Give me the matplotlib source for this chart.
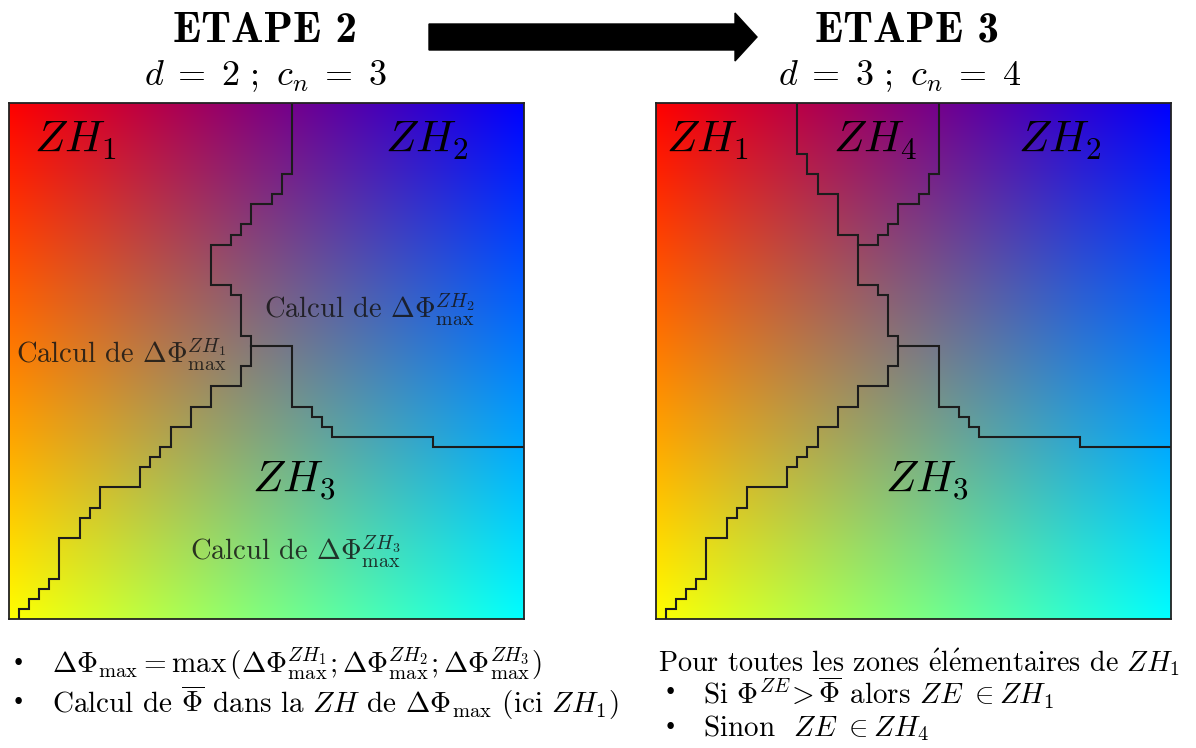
import numpy as np
import matplotlib
matplotlib.use("Agg")
import matplotlib.pyplot as plt
from matplotlib.patches import FancyArrow

plt.rcParams['font.family'] = ['cmr10', 'DejaVu Serif']
plt.rcParams['mathtext.fontset'] = 'cm'
plt.rcParams['axes.unicode_minus'] = False

W, H = 1196, 748
N = 51  # grille de zones élémentaires (51 x 51)

# couleurs des coins : haut-gauche, haut-droite, bas-gauche, bas-droite
corner_colors = [(1, 0, 0), (0, 0, 1), (1, 1, 0), (0, 1, 1)]

# frontières (x, y) en cellules, y compté depuis le haut
border_12 = [(28, 0), (28, 7), (27, 7), (27, 9), (26, 9), (26, 10), (24, 10), (24, 12),
             (23, 12), (23, 13), (22, 13), (22, 14), (20, 14), (20, 18), (22, 18),
             (22, 19), (23, 19), (23, 23), (24, 23), (24, 24)]
border_23 = [(24, 24), (28, 24), (28, 30), (30, 30), (30, 31), (31, 31), (31, 32),
             (32, 32), (32, 33), (42, 33), (42, 34), (51, 34)]
border_13 = [(24, 24), (24, 26), (23, 26), (23, 28), (20, 28), (20, 30), (18, 30),
             (18, 32), (16, 32), (16, 34), (15, 34), (15, 35), (14, 35), (14, 36),
             (13, 36), (13, 38), (9, 38), (9, 40), (8, 40), (8, 41), (7, 41), (7, 43),
             (5, 43), (5, 47), (4, 47), (4, 48), (3, 48), (3, 49), (2, 49), (2, 50),
             (1, 50), (1, 51)]
# nouvelle frontière ZH4 / ZH1 à l'étape 3
border_14 = [(14, 0), (14, 5), (15, 5), (15, 7), (16, 7), (16, 9), (18, 9), (18, 13),
             (20, 13), (20, 14)]

# étiquettes (texte, x, y) en cellules
labels_step2 = [(r"$ZH_1$", 6.6, 3.7), (r"$ZH_2$", 41.4, 3.7), (r"$ZH_3$", 28.2, 37.3)]
calc_step2 = [(r"Calcul de $\Delta\Phi^{ZH_1}_{\mathrm{max}}$", 11.1, 24.9),
              (r"Calcul de $\Delta\Phi^{ZH_2}_{\mathrm{max}}$", 35.7, 20.5),
              (r"Calcul de $\Delta\Phi^{ZH_3}_{\mathrm{max}}$", 28.4, 44.4)]
labels_step3 = [(r"$ZH_1$", 5.1, 3.7), (r"$ZH_4$", 21.7, 3.7), (r"$ZH_2$", 40.0, 3.7),
                (r"$ZH_3$", 26.8, 37.3)]


def gradient():
    t = np.linspace(0, 1, 256)
    u, v = np.meshgrid(t, t)
    u, v = u[..., None], v[..., None]
    tl, tr, bl, br = [np.array(c) for c in corner_colors]
    return (1 - u) * (1 - v) * tl + u * (1 - v) * tr + (1 - u) * v * bl + u * v * br


def px_rect(x0, y0, x1, y1):
    return [x0 / W, 1 - y1 / H, (x1 - x0) / W, (y1 - y0) / H]


def draw_panel(rect, borders, labels, calcs):
    ax = fig.add_axes(rect)
    ax.imshow(gradient(), extent=(0, N, N, 0), interpolation='bilinear', aspect='auto')
    ax.set_xlim(0, N)
    ax.set_ylim(N, 0)
    ax.set_xticks([])
    ax.set_yticks([])
    for s in ax.spines.values():
        s.set_linewidth(1.3)
        s.set_color('#222222')
    for b in borders:
        xs, ys = zip(*b)
        ax.plot(xs, ys, color='#1c1c1c', lw=1.5, solid_joinstyle='miter')
    for txt, x, y in labels:
        ax.text(x, y, txt, fontsize=32, ha='center', va='center', color='black')
    for txt, x, y in calcs:
        ax.text(x, y, txt, fontsize=20.5, ha='center', va='center', color='#151515', alpha=0.85)
    return ax


fig = plt.figure(figsize=(W / 100, H / 100), dpi=100)
over = fig.add_axes([0, 0, 1, 1])
over.set_xlim(0, W)
over.set_ylim(H, 0)
over.axis('off')

# titres
bold = ['cmb10', 'DejaVu Serif']
over.text(265, 31, "ETAPE 2", fontsize=31, family=bold, ha='center', va='center')
over.text(907, 31, "ETAPE 3", fontsize=31, family=bold, ha='center', va='center')
over.text(265, 76, r"$d\;=\;2\ ;\ c_n\;=\;3$", fontsize=26, ha='center', va='center')
over.text(900, 76, r"$d\;=\;3\ ;\ c_n\;=\;4$", fontsize=26, ha='center', va='center')
over.add_patch(FancyArrow(429, 37, 328, 0, width=26, head_width=48, head_length=22,
                          length_includes_head=True, color='black'))

draw_panel(px_rect(9, 103, 524, 619), [border_12, border_23, border_13], labels_step2, calc_step2)
draw_panel(px_rect(656, 103, 1171, 619), [border_12, border_23, border_13, border_14],
           labels_step3, [])

# textes du bas
fs = 21
over.text(12, 664, "•", fontsize=16, va='center')
over.text(52, 664, r"$\Delta\Phi_{\mathrm{max}} = \mathrm{max}\,(\Delta\Phi^{ZH_1}_{\mathrm{max}};"
          r"\Delta\Phi^{ZH_2}_{\mathrm{max}};\Delta\Phi^{ZH_3}_{\mathrm{max}})$", fontsize=fs, va='center')
over.text(12, 703, "•", fontsize=16, va='center')
over.text(52, 703, r"Calcul de $\overline{\Phi}$ dans la $ZH$ de $\Delta\Phi_{\mathrm{max}}$ (ici $ZH_1$)",
          fontsize=fs, va='center')

over.text(658, 662, r"Pour toutes les zones $\mathrm{\acute{e}l\acute{e}mentaires}$ de $ZH_1$",
          fontsize=20.3, va='center')
over.text(664, 693, "•", fontsize=16, va='center')
over.text(703, 693, r"Si $\Phi^{ZE}\!>\overline{\Phi}$ alors $ZE\ \in ZH_1$", fontsize=fs, va='center')
over.text(664, 728, "•", fontsize=16, va='center')
over.text(703, 728, r"Sinon  $ZE\ \in ZH_4$", fontsize=fs, va='center')

fig.savefig("out.png", dpi=100)
